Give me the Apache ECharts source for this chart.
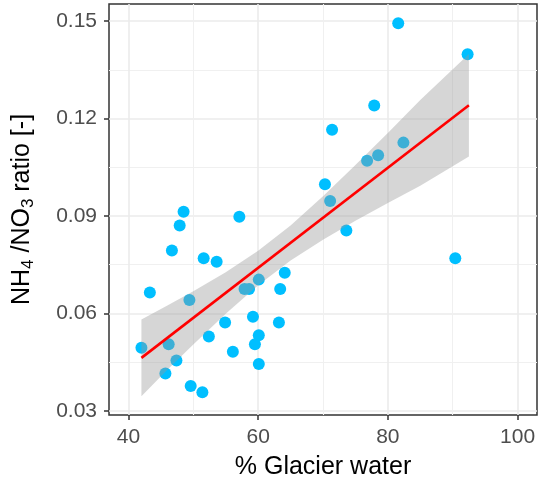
<!DOCTYPE html>
<html>
<head>
<meta charset="utf-8">
<script src="https://cdn.jsdelivr.net/npm/echarts@6/dist/echarts.min.js"></script>
<style>
  html, body { margin: 0; padding: 0; background: #fff; }
  #chart { width: 542px; height: 483px; }
</style>
</head>
<body>
<div id="chart"></div>
<script>
// points: % glacier water vs NH4/NO3 ratio
const glacierPct = [81.6, 92.3, 77.9, 71.4, 82.4, 78.5, 76.8, 70.3, 71.1, 48.5,
  57.1, 47.9, 73.6, 46.7, 51.6, 53.6, 90.4, 64.1, 60.1, 57.9,
  58.6, 63.4, 43.3, 49.4, 59.2, 54.9, 63.2, 52.4, 60.1, 59.5,
  42.0, 46.2, 56.1, 47.4, 60.1, 45.7, 49.6, 51.4];
const ratio = [0.1494, 0.1398, 0.1240, 0.1166, 0.1126, 0.1087, 0.1070, 0.0998, 0.0946, 0.0913,
  0.0898, 0.0871, 0.0855, 0.0794, 0.0770, 0.0759, 0.0770, 0.0725, 0.0704, 0.0675,
  0.0675, 0.0675, 0.0664, 0.0641, 0.0590, 0.0572, 0.0572, 0.0529, 0.0533, 0.0505,
  0.0494, 0.0505, 0.0482, 0.0455, 0.0444, 0.0415, 0.0376, 0.0357];

// fitted line (ends) and confidence band
const fitX = [42, 92.5];
const fitY = [0.0463, 0.1241];
const bandX = [42, 46, 50, 55, 60, 65, 70, 75, 80, 85, 92.5];
const bandUpper = [0.0581, 0.0624, 0.0668, 0.0727, 0.0793, 0.0871, 0.0961, 0.1057, 0.1156, 0.1257, 0.1399];
const bandLower = [0.0345, 0.0426, 0.0504, 0.0599, 0.0687, 0.0763, 0.0827, 0.0885, 0.0940, 0.0993, 0.1083];

// axis ticks
const xTicks = [40, 60, 80, 100];
const xMinor = [50, 70, 90];
const yTicks = [0.03, 0.06, 0.09, 0.12, 0.15];
const yMinor = [0.045, 0.075, 0.105, 0.135];

const FONT = 'Liberation Sans, Arial, sans-serif';
const X_MIN = 37, X_MAX = 103;
const Y_MIN = 0.0287, Y_MAX = 0.1553;

var chart = echarts.init(document.getElementById('chart'));

const majorGrid = { show: true, lineStyle: { color: '#ebebeb', width: 1.6 } };
const minorGrid = { show: true, lineStyle: { color: '#f0f0f0', width: 1.1 } };

let option = {
  animation: false,
  backgroundColor: '#fff',
  grid: {
    left: 109, top: 4, width: 428, height: 411,
    show: true, borderColor: '#333', borderWidth: 1.5, backgroundColor: '#fff',
    containLabel: false, outerBoundsMode: 'none'
  },
  xAxis: [
    {
      type: 'value', min: X_MIN, max: X_MAX, position: 'bottom',
      axisLine: { show: false },
      axisTick: { show: true, customValues: xTicks, length: 5, lineStyle: { color: '#333', width: 1.5 } },
      axisLabel: { customValues: xTicks, fontSize: 21, color: '#4d4d4d', fontFamily: FONT, margin: 12 },
      splitLine: majorGrid,
      name: '% Glacier water', nameLocation: 'middle', nameGap: 40, nameMoveOverlap: false,
      nameTextStyle: { fontSize: 25, color: '#000', fontFamily: FONT }
    },
    {
      type: 'value', min: X_MIN, max: X_MAX, position: 'top',
      axisLine: { show: false },
      axisTick: { show: false, customValues: xMinor },
      axisLabel: { show: false, customValues: xMinor },
      splitLine: minorGrid
    }
  ],
  yAxis: [
    {
      type: 'value', min: Y_MIN, max: Y_MAX, position: 'left',
      axisLine: { show: false },
      axisTick: { show: true, customValues: yTicks, length: 5, lineStyle: { color: '#333', width: 1.5 } },
      axisLabel: {
        customValues: yTicks, fontSize: 21, color: '#4d4d4d', fontFamily: FONT, margin: 12,
        formatter: v => v.toFixed(2)
      },
      splitLine: majorGrid,
      name: '{n|NH}{s|4}{n| /NO}{s|3}{n| ratio [-]}',
      nameLocation: 'middle', nameRotate: 90, nameGap: 72, nameMoveOverlap: false,
      nameTextStyle: {
        color: '#000', fontFamily: FONT,
        rich: {
          n: { fontSize: 25, lineHeight: 30, color: '#000', fontFamily: FONT },
          s: { fontSize: 17, lineHeight: 14, verticalAlign: 'bottom', color: '#000', fontFamily: FONT }
        }
      }
    },
    {
      type: 'value', min: Y_MIN, max: Y_MAX, position: 'right',
      axisLine: { show: false },
      axisTick: { show: false, customValues: yMinor },
      axisLabel: { show: false, customValues: yMinor },
      splitLine: minorGrid
    }
  ],
  series: [
    {
      type: 'scatter',
      z: 2,
      symbolSize: 12,
      itemStyle: { color: '#00bfff', opacity: 1 },
      data: glacierPct.map((x, i) => [x, ratio[i]])
    },
    {
      type: 'custom',
      z: 3,
      silent: true,
      clip: true,
      data: [[bandX[0], bandLower[0]]],
      renderItem: function (params, api) {
        const pts = [];
        for (let i = 0; i < bandX.length; i++) pts.push(api.coord([bandX[i], bandUpper[i]]));
        for (let i = bandX.length - 1; i >= 0; i--) pts.push(api.coord([bandX[i], bandLower[i]]));
        return {
          type: 'polygon',
          shape: { points: pts },
          style: { fill: 'rgba(153,153,153,0.4)' }
        };
      }
    },
    {
      type: 'line',
      z: 4,
      symbol: 'none',
      lineStyle: { color: '#ff0000', width: 2.6 },
      data: fitX.map((x, i) => [x, fitY[i]])
    }
  ]
};

option && chart.setOption(option);
</script>
</body>
</html>
